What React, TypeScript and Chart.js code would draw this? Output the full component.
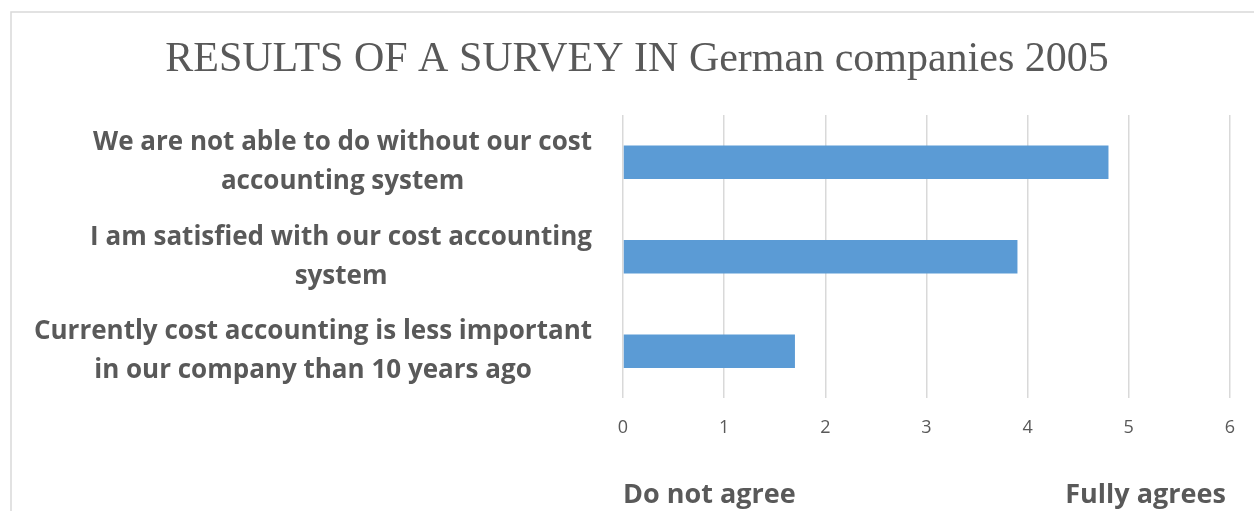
import React, { useEffect, useRef } from "react";
import { Chart, registerables } from "chart.js";

Chart.register(...registerables);

const titleText = "RESULTS OF A SURVEY IN German companies 2005";
const categories: string[][] = [
  ["We are not able to do without our cost", "accounting system"],
  ["I am satisfied with our cost accounting", "system"],
  ["Currently cost accounting is less important", "in our company than 10 years ago"],
];
const values: number[] = [4.8, 3.9, 1.7];
const xMin = 0;
const xMax = 6;
const lowLabel = "Do not agree";
const highLabel = "Fully agrees";

const GRAY = "#595959";
const LABEL_FONT = "bold 26px 'Open Sans', sans-serif";
const BOTTOM_FONT = "bold 27px 'Open Sans', sans-serif";
const TITLE_FONT = "42px 'Liberation Serif', 'Times New Roman', serif";

const decorPlugin = {
  id: "decor",
  beforeDraw(chart: any) {
    const ctx = chart.ctx;
    ctx.save();
    ctx.strokeStyle = "#d9d9d9";
    ctx.lineWidth = 1.5;
    ctx.beginPath();
    ctx.moveTo(11, chart.height + 5);
    ctx.lineTo(11, 12);
    ctx.lineTo(chart.width + 5, 12);
    ctx.stroke();
    ctx.restore();
  },
  afterDraw(chart: any) {
    const ctx = chart.ctx;
    const y = chart.scales.y;
    const x = chart.scales.x;
    const area = chart.chartArea;
    ctx.save();
    ctx.fillStyle = GRAY;
    // title
    ctx.font = TITLE_FONT;
    ctx.textAlign = "center";
    ctx.textBaseline = "middle";
    ctx.fillText(titleText, 637, 60);
    // category labels
    ctx.font = LABEL_FONT;
    const lineH = 39;
    categories.forEach((lines, i) => {
      const cy = y.getPixelForValue(i);
      const maxW = Math.max(...lines.map((l) => ctx.measureText(l).width));
      const cx = area.left - 31 - maxW / 2;
      const startY = cy - ((lines.length - 1) * lineH) / 2;
      lines.forEach((l, j) => ctx.fillText(l, cx, startY + j * lineH));
    });
    // bottom scale captions
    ctx.font = BOTTOM_FONT;
    const by = 495;
    ctx.textAlign = "left";
    ctx.fillText(lowLabel, x.getPixelForValue(xMin), by);
    ctx.textAlign = "right";
    ctx.fillText(highLabel, x.getPixelForValue(xMax) - 4, by);
    ctx.restore();
  },
};

export default function App() {
  const ref = useRef<HTMLCanvasElement>(null);
  useEffect(() => {
    if (!ref.current) return;
    const chart = new Chart(ref.current, {
      type: "bar",
      data: {
        labels: categories.map((c) => c.join(" ")),
        datasets: [
          {
            data: values,
            backgroundColor: "#5b9bd5",
            barPercentage: 0.355,
            categoryPercentage: 1,
          },
        ],
      },
      options: {
        indexAxis: "y",
        animation: false,
        responsive: true,
        maintainAspectRatio: false,
        layout: { padding: { top: 115, right: -2, bottom: 53, left: 0 } },
        plugins: {
          legend: { display: false },
          tooltip: { enabled: false },
          title: { display: false },
        },
        scales: {
          x: {
            min: xMin,
            max: xMax,
            ticks: {
              stepSize: 1,
              color: GRAY,
              padding: 19,
              font: { family: "'Open Sans', sans-serif", size: 18 },
            },
            grid: { color: "#d9d9d9", lineWidth: 1.5, drawTicks: false },
            border: { display: false },
          },
          y: {
            ticks: { display: false },
            grid: { display: false },
            border: { display: false },
            afterFit(scale: any) {
              scale.width = 623;
            },
          },
        },
      },
      plugins: [decorPlugin],
    });
    return () => chart.destroy();
  }, []);
  return (
    <div style={{ position: "fixed", left: 0, top: 0, width: 1254, height: 511, background: "#fff" }}>
      <canvas ref={ref} />
    </div>
  );
}
